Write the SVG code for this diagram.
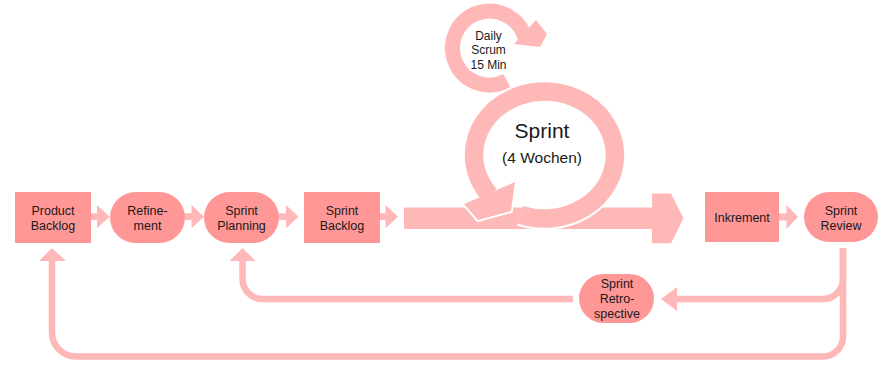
<svg xmlns="http://www.w3.org/2000/svg" width="886" height="365" viewBox="0 0 886 365">
<style>
.node{fill:#FF9797}
.arr{fill:#FFB8B8}
.ln{fill:none;stroke:#FFB8B8;stroke-width:6.5}
text{font-family:"Liberation Sans",Arial,sans-serif;font-size:12.5px;fill:#1a1a1a;text-anchor:middle}
.big{font-size:21px}
.mid{font-size:15.5px}
.sm{font-size:12px}
</style>
<rect width="886" height="365" fill="#ffffff"/>
<g id="connectors">
  <polygon class="arr" points="91,213.3 97,213.3 97,205 109.5,216.7 97,228.3 97,220 91,220"/>
  <polygon class="arr" points="185,213.3 191.5,213.3 191.5,205 204,216.7 191.5,228.3 191.5,220 185,220"/>
  <polygon class="arr" points="279,213.3 286,213.3 286,205 298.5,216.7 286,228.3 286,220 279,220"/>
  <polygon class="arr" points="380,213.3 385.5,213.3 385.5,205 398,216.7 385.5,228.3 385.5,220 380,220"/>
  <polygon class="arr" points="779,213.5 786.5,213.5 786.5,205 798,217 786.5,229 786.5,220.5 779,220.5"/>
  <path class="ln" d="M843,248 V279 A20,20 0 0 1 823,299 H676"/>
  <polygon class="arr" points="677,287 661,299 677,311"/>
  <path class="ln" d="M843,248 V336 A20,20 0 0 1 823,356.5 H76 A24,24 0 0 1 52,332.5 V260"/>
  <polygon class="arr" points="39,261 52,248 66,261"/>
  <path class="ln" d="M573,299 H262.5 A20,20 0 0 1 242.5,279 V260"/>
  <polygon class="arr" points="229.5,261 242.5,248 255.5,261"/>
</g>
<g id="sprint-flow">
  <polygon class="arr" points="404,207.5 652,207.5 652,193.5 671,193.5 683.5,218.3 671,243.3 652,243.3 652,229 404,229"/>
</g>
<g id="daily-scrum">
  <path d="M506.9,80.7 A37,37 0 1 1 525.2,38.4" fill="none" stroke="#FFB8B8" stroke-width="15"/>
  <polygon class="arr" points="536,20 547,34 540,47 514,44"/>
  <text class="sm" x="488.5" y="39.5">Daily</text>
  <text class="sm" x="488.5" y="54">Scrum</text>
  <text class="sm" x="488.5" y="68.5">15 Min</text>
</g>
<g id="sprint">
  <path d="M520.4,214.7 A70.5,63.5 0 1 0 489.7,195" fill="none" stroke="#ffffff" stroke-width="22.5"/>
  <polygon points="464,204 478,220 511,211 515,182" fill="#ffffff" stroke="#ffffff" stroke-width="4" stroke-linejoin="round"/>
  <path d="M520.4,214.7 A70.5,63.5 0 1 0 489.7,195" fill="none" stroke="#FFB8B8" stroke-width="18.5"/>
  <polygon class="arr" points="464,204 478,220 511,211 515,182"/>
  <text class="big" x="542" y="138">Sprint</text>
  <text class="mid" x="542" y="163">(4 Wochen)</text>
</g>
<g id="product-backlog">
  <rect class="node" x="15" y="192" width="76" height="51"/>
  <text x="53" y="215">Product</text>
  <text x="53" y="230">Backlog</text>
</g>
<g id="refinement">
  <rect class="node" x="110" y="192" width="75" height="51" rx="25.5"/>
  <text x="147.5" y="215">Refine-</text>
  <text x="147.5" y="230">ment</text>
</g>
<g id="sprint-planning">
  <rect class="node" x="204" y="192" width="75" height="51" rx="25.5"/>
  <text x="241.5" y="215">Sprint</text>
  <text x="241.5" y="230">Planning</text>
</g>
<g id="sprint-backlog">
  <rect class="node" x="304" y="192" width="76" height="51"/>
  <text x="342" y="215">Sprint</text>
  <text x="342" y="230">Backlog</text>
</g>
<g id="inkrement">
  <rect class="node" x="705" y="192" width="74" height="50"/>
  <text x="742" y="221.5">Inkrement</text>
</g>
<g id="sprint-review">
  <rect class="node" x="804" y="192" width="74" height="50" rx="25"/>
  <text x="841" y="215">Sprint</text>
  <text x="841" y="230">Review</text>
</g>
<g id="sprint-retrospective">
  <rect class="node" x="579" y="274" width="75" height="49" rx="24.5"/>
  <text x="617" y="288">Sprint</text>
  <text x="617" y="303">Retro-</text>
  <text x="617" y="318">spective</text>
</g>
</svg>
